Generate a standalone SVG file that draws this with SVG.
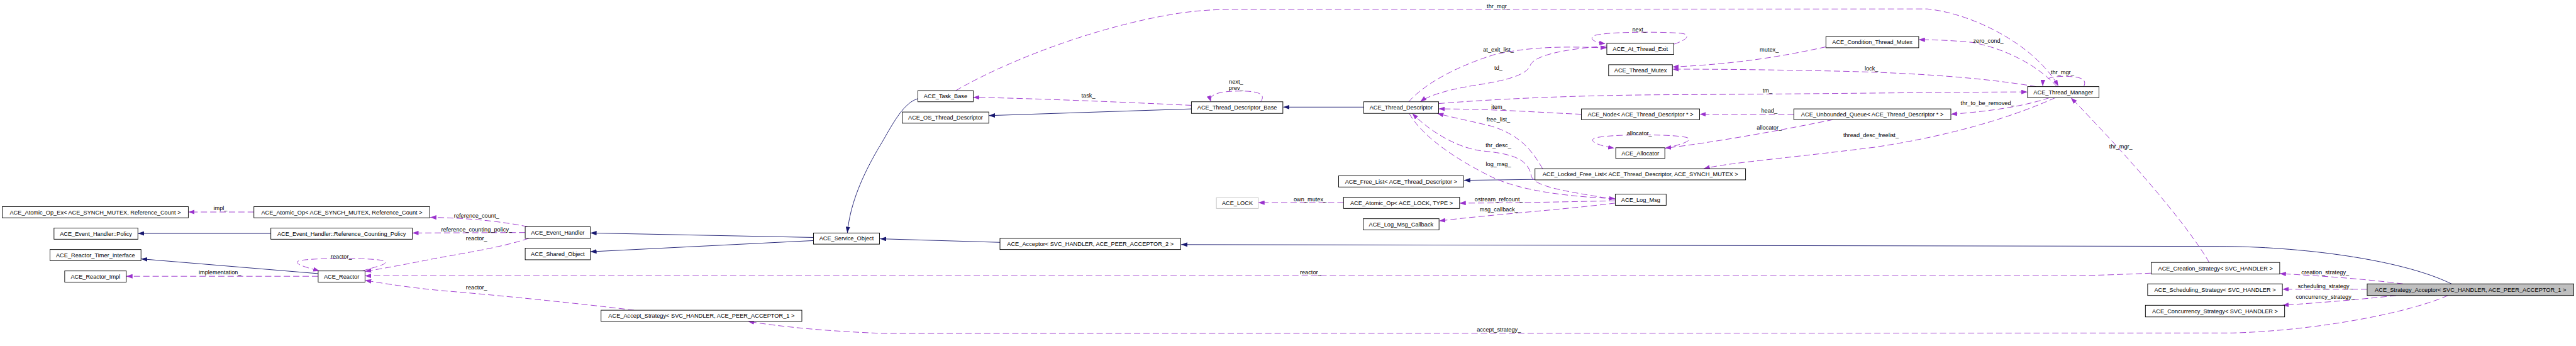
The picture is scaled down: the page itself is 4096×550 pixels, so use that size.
<svg xmlns="http://www.w3.org/2000/svg" width="4096" height="550" viewBox="0 0 4096 550">
<style>
.node rect{fill:#ffffff;stroke:#000000;stroke-width:1.3}
.node text{font-family:"Liberation Sans",Arial,sans-serif;font-size:13px;fill:#000;text-anchor:middle}
.inh{fill:none;stroke:#191970;stroke-width:1.3;marker-end:url(#ah)}
.use{fill:none;stroke:#9a32cd;stroke-width:1.3;stroke-dasharray:14,7;marker-end:url(#ap)}
.lbl{font-family:"Liberation Sans",Arial,sans-serif;font-size:13px;fill:#000;text-anchor:middle}
</style>
<defs>
<marker id="ah" markerUnits="userSpaceOnUse" markerWidth="14" markerHeight="10" refX="14" refY="5" orient="auto"><path d="M0,0 L14,5 L0,10 z" fill="#191970"/></marker>
<marker id="ap" markerUnits="userSpaceOnUse" markerWidth="14" markerHeight="10" refX="14" refY="5" orient="auto"><path d="M0,0 L14,5 L0,10 z" fill="#9a32cd"/></marker>
</defs>
<rect width="4096" height="550" fill="#ffffff"/>
<g transform="scale(0.70951)">
<g id="connectors">
<path class="inh" d="M607,523 L309,523"/>
<path class="inh" d="M713,613 L316,580"/>
<path class="inh" d="M1823,532 L1323,522"/>
<path class="inh" d="M1823,539 L1323,564"/>
<path class="inh" d="M2057,221 C2020,232 1995,290 1967,335 C1935,390 1905,455 1899,522"/>
<path class="inh" d="M2670,244 L2216,259"/>
<path class="inh" d="M3056,240 L2876,240"/>
<path class="inh" d="M3440,402 L3281,404"/>
<path class="inh" d="M2241,543 L1972,535"/>
<path class="inh" d="M5494,636 C5380,580 5150,552 4974,552 L2647,548"/>
<path class="use" d="M569,475 L422,475"/>
<path class="use" d="M1183,508 C1120,495 1040,488 964,487"/>
<path class="use" d="M1177,521 L924,522"/>
<path class="use" d="M1185,534 C1120,556 1020,570 960,582 C900,594 850,603 818,608"/>
<path class="use" d="M812,607 C840,598 872,592 862,585 C845,577 690,577 668,585 C658,592 690,600 716,607"/>
<path class="use" d="M713,619 L283,619"/>
<path class="use" d="M4821,612 C4750,615 4680,618 4600,618 L818,618"/>
<path class="use" d="M1421,695 C1300,680 1100,660 1000,652 C920,645 860,635 818,628"/>
<path class="use" d="M2670,236 C2500,228 2300,220 2181,218"/>
<path class="use" d="M2825,228 C2835,215 2830,204 2780,204 C2730,204 2708,212 2714,228"/>
<path class="use" d="M2142,203 C2250,140 2450,60 2640,30 C2680,24 2720,21 2765,21 L4319,20 C4420,30 4560,100 4613,193"/>
<path class="use" d="M3157,228 C3190,190 3260,150 3350,122 C3450,100 3540,106 3601,107"/>
<path class="use" d="M3601,103 C3500,110 3440,125 3430,145 C3422,168 3380,180 3300,192 C3240,202 3200,215 3183,228"/>
<path class="use" d="M3751,99 C3780,90 3790,78 3770,75 C3740,71 3600,70 3572,80 C3560,88 3575,95 3598,98"/>
<path class="use" d="M4092,105 C4000,125 3900,143 3748,150"/>
<path class="use" d="M4563,194 C4450,175 4300,163 4100,159 C3950,156 3850,155 3748,155"/>
<path class="use" d="M4610,194 C4570,150 4500,110 4420,95 C4370,90 4330,89 4300,89"/>
<path class="use" d="M4670,194 C4676,180 4670,172 4630,171 C4595,171 4578,176 4578,193"/>
<path class="use" d="M3224,232 C3400,218 3600,212 3800,212 C4100,210 4400,206 4544,206"/>
<path class="use" d="M3544,256 C3450,252 3350,244 3224,244"/>
<path class="use" d="M4020,256 L3809,256"/>
<path class="use" d="M4108,268 C4000,290 3850,318 3731,332"/>
<path class="use" d="M3731,333 C3760,325 3800,315 3780,308 C3750,300 3600,300 3572,310 C3560,318 3590,328 3618,332"/>
<path class="use" d="M3457,378 C3430,330 3400,300 3340,282 C3290,270 3250,262 3221,254"/>
<path class="use" d="M3620,447 C3520,430 3440,420 3432,395 C3425,360 3400,345 3320,338 C3260,330 3200,290 3165,254"/>
<path class="use" d="M3158,254 C3190,310 3270,360 3340,395 C3400,425 3500,440 3620,445"/>
<path class="use" d="M3620,450 C3500,452 3400,455 3271,455"/>
<path class="use" d="M3620,455 C3500,470 3350,480 3225,495"/>
<path class="use" d="M3011,454 L2820,454"/>
<path class="use" d="M4606,219 C4530,253 4400,300 4200,330 C4000,355 3870,365 3818,378"/>
<path class="use" d="M4593,219 C4530,240 4450,250 4372,256"/>
<path class="use" d="M4951,588 C4900,500 4760,340 4641,219"/>
<path class="use" d="M5385,636 C5300,625 5200,618 5109,613"/>
<path class="use" d="M5305,648 L5115,648"/>
<path class="use" d="M5370,662 C5280,672 5200,678 5115,684"/>
<path class="use" d="M5486,662 C5400,700 5200,740 5004,746 L1980,747 C1850,742 1750,732 1676,720"/>
<text class="lbl" x="494" y="471">impl_</text>
<text class="lbl" x="1068" y="487">reference_count_</text>
<text class="lbl" x="1068" y="519">reference_counting_policy_</text>
<text class="lbl" x="1068" y="539">reactor_</text>
<text class="lbl" x="765" y="579">reactor_</text>
<text class="lbl" x="493" y="615">implementation_</text>
<text class="lbl" x="1068" y="648">reactor_</text>
<text class="lbl" x="2937" y="615">reactor_</text>
<text class="lbl" x="2439" y="219">task_</text>
<text class="lbl" x="2770" y="187">next_</text>
<text class="lbl" x="2770" y="202">prev_</text>
<text class="lbl" x="3358" y="18">thr_mgr_</text>
<text class="lbl" x="3358" y="116">at_exit_list_</text>
<text class="lbl" x="3358" y="156">td_</text>
<text class="lbl" x="3674" y="70">next_</text>
<text class="lbl" x="3965" y="116">mutex_</text>
<text class="lbl" x="4194" y="158">lock_</text>
<text class="lbl" x="4456" y="96">zero_cond_</text>
<text class="lbl" x="4622" y="167">thr_mgr_</text>
<text class="lbl" x="3961" y="207">tm_</text>
<text class="lbl" x="3358" y="244">item_</text>
<text class="lbl" x="3965" y="252">head_</text>
<text class="lbl" x="3965" y="290">allocator_</text>
<text class="lbl" x="3674" y="303">allocator_</text>
<text class="lbl" x="3358" y="272">free_list_</text>
<text class="lbl" x="3358" y="330">thr_desc_</text>
<text class="lbl" x="3358" y="372">log_msg_</text>
<text class="lbl" x="3359" y="451">ostream_refcount_</text>
<text class="lbl" x="3359" y="474">msg_callback_</text>
<text class="lbl" x="2936" y="451">own_mutex_</text>
<text class="lbl" x="4193" y="307">thread_desc_freelist_</text>
<text class="lbl" x="4454" y="236">thr_to_be_removed_</text>
<text class="lbl" x="4753" y="332">thr_mgr_</text>
<text class="lbl" x="5211" y="615">creation_strategy_</text>
<text class="lbl" x="5211" y="646">scheduling_strategy_</text>
<text class="lbl" x="5211" y="670">concurrency_strategy_</text>
<text class="lbl" x="3359" y="743">accept_strategy_</text>
</g>
<g id="n_atomic_op_ex" class="node"><rect x="5" y="463" width="417" height="25"/><text x="213.5" y="480">ACE_Atomic_Op_Ex&lt; ACE_SYNCH_MUTEX, Reference_Count &gt;</text></g>
<g id="n_atomic_op_ref" class="node"><rect x="569" y="463" width="394" height="25"/><text x="766" y="480">ACE_Atomic_Op&lt; ACE_SYNCH_MUTEX, Reference_Count &gt;</text></g>
<g id="n_policy" class="node"><rect x="121" y="511" width="188" height="25"/><text x="215" y="528">ACE_Event_Handler::Policy</text></g>
<g id="n_ref_policy" class="node"><rect x="607" y="511" width="317" height="25"/><text x="765.5" y="528">ACE_Event_Handler::Reference_Counting_Policy</text></g>
<g id="n_timer_iface" class="node"><rect x="112" y="559" width="204" height="25"/><text x="214" y="576">ACE_Reactor_Timer_Interface</text></g>
<g id="n_reactor_impl" class="node"><rect x="145" y="607" width="138" height="25"/><text x="214" y="624">ACE_Reactor_Impl</text></g>
<g id="n_reactor" class="node"><rect x="713" y="607" width="105" height="25"/><text x="765.5" y="624">ACE_Reactor</text></g>
<g id="n_event_handler" class="node"><rect x="1177" y="508" width="146" height="26"/><text x="1250" y="525.5">ACE_Event_Handler</text></g>
<g id="n_shared_object" class="node"><rect x="1177" y="556" width="146" height="26"/><text x="1250" y="573.5">ACE_Shared_Object</text></g>
<g id="n_service_object" class="node"><rect x="1823" y="522" width="148" height="25"/><text x="1897" y="539">ACE_Service_Object</text></g>
<g id="n_accept_strategy" class="node"><rect x="1347" y="695" width="450" height="25"/><text x="1572" y="712">ACE_Accept_Strategy&lt; SVC_HANDLER, ACE_PEER_ACCEPTOR_1 &gt;</text></g>
<g id="n_task_base" class="node"><rect x="2057" y="203" width="124" height="25"/><text x="2119" y="220">ACE_Task_Base</text></g>
<g id="n_os_td" class="node"><rect x="2022" y="251" width="194" height="25"/><text x="2119" y="268">ACE_OS_Thread_Descriptor</text></g>
<g id="n_td_base" class="node"><rect x="2670" y="228" width="205" height="26"/><text x="2772.5" y="245.5">ACE_Thread_Descriptor_Base</text></g>
<g id="n_lock" class="node"><rect x="2726" y="443" width="94" height="24" style="stroke:#bfbfbf"/><text x="2773" y="459.5">ACE_LOCK</text></g>
<g id="n_acceptor" class="node"><rect x="2241" y="534" width="405" height="25"/><text x="2443.5" y="551">ACE_Acceptor&lt; SVC_HANDLER, ACE_PEER_ACCEPTOR_2 &gt;</text></g>
<g id="n_at_thread_exit" class="node"><rect x="3601" y="97" width="150" height="25"/><text x="3676" y="114">ACE_At_Thread_Exit</text></g>
<g id="n_thread_mutex" class="node"><rect x="3605" y="145" width="143" height="25"/><text x="3676.5" y="162">ACE_Thread_Mutex</text></g>
<g id="n_td" class="node"><rect x="3056" y="228" width="168" height="26"/><text x="3140" y="245.5">ACE_Thread_Descriptor</text></g>
<g id="n_node" class="node"><rect x="3544" y="244" width="265" height="24"/><text x="3676.5" y="260.5">ACE_Node&lt; ACE_Thread_Descriptor * &gt;</text></g>
<g id="n_allocator" class="node"><rect x="3621" y="331" width="110" height="24"/><text x="3676" y="347.5">ACE_Allocator</text></g>
<g id="n_locked_free_list" class="node"><rect x="3440" y="378" width="472" height="25"/><text x="3676" y="395">ACE_Locked_Free_List&lt; ACE_Thread_Descriptor, ACE_SYNCH_MUTEX &gt;</text></g>
<g id="n_free_list" class="node"><rect x="3000" y="394" width="280" height="25"/><text x="3140" y="411">ACE_Free_List&lt; ACE_Thread_Descriptor &gt;</text></g>
<g id="n_atomic_op_lock" class="node"><rect x="3011" y="442" width="260" height="25"/><text x="3141" y="459">ACE_Atomic_Op&lt; ACE_LOCK, TYPE &gt;</text></g>
<g id="n_log_msg_cb" class="node"><rect x="3055" y="490" width="170" height="25"/><text x="3140" y="507">ACE_Log_Msg_Callback</text></g>
<g id="n_log_msg" class="node"><rect x="3620" y="435" width="114" height="25"/><text x="3677" y="452">ACE_Log_Msg</text></g>
<g id="n_cond_mutex" class="node"><rect x="4092" y="82" width="208" height="25"/><text x="4196" y="99">ACE_Condition_Thread_Mutex</text></g>
<g id="n_thread_manager" class="node"><rect x="4544" y="194" width="160" height="25"/><text x="4624" y="211">ACE_Thread_Manager</text></g>
<g id="n_unbounded_queue" class="node"><rect x="4020" y="244" width="352" height="24"/><text x="4196" y="260.5">ACE_Unbounded_Queue&lt; ACE_Thread_Descriptor * &gt;</text></g>
<g id="n_creation" class="node"><rect x="4821" y="588" width="288" height="26"/><text x="4965" y="605.5">ACE_Creation_Strategy&lt; SVC_HANDLER &gt;</text></g>
<g id="n_scheduling" class="node"><rect x="4813" y="636" width="302" height="26"/><text x="4964" y="653.5">ACE_Scheduling_Strategy&lt; SVC_HANDLER &gt;</text></g>
<g id="n_concurrency" class="node"><rect x="4808" y="684" width="312" height="26"/><text x="4964" y="701.5">ACE_Concurrency_Strategy&lt; SVC_HANDLER &gt;</text></g>
<g id="n_strategy_acceptor" class="node"><rect x="5305" y="636" width="463" height="26" style="fill:#bfbfbf"/><text x="5536.5" y="653.5">ACE_Strategy_Acceptor&lt; SVC_HANDLER, ACE_PEER_ACCEPTOR_1 &gt;</text></g>
</g>
</svg>
